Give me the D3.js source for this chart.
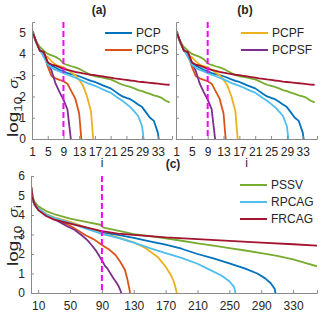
<!DOCTYPE html>
<html>
<head>
<meta charset="utf-8">
<script src="https://cdn.jsdelivr.net/npm/d3@7"></script>
<style>
  body { margin: 0; background: #fff; }
  text { font-family: "Liberation Sans", Arial, sans-serif; fill: #262626; }
</style>
</head>
<body>
<div id="chart"></div>
<script>
// series names / colours (MATLAB default order)
const names = ["PCP", "PCPS", "PCPF", "PCPSF", "PSSV", "RPCAG", "FRCAG"];
const colors = ["#0072BD", "#D95319", "#EDB120", "#7E2F8E", "#77AC30", "#4DBEEE", "#A2142F"];

// panels (a) and (b): log10 sigma_i for i = 1, 2, 3 ...
const abPCP   = [5.1, 4.6, 4.2, 3.9, 3.6, 3.45, 3.35, 3.25, 3.18, 3.1, 3.05, 3.0, 2.95, 2.88, 2.8, 2.73, 2.68, 2.6, 2.52, 2.45, 2.38, 2.25, 2.12, 2.0, 1.93, 1.87, 1.75, 1.62, 1.5, 1.25, 1.0, 0.85, 0.3, -1];
const abPCPS  = [5.1, 4.6, 4.15, 4.05, 3.4, 2.95, 2.85, 2.78, 2.72, 2.6, 2.25, 1.9, 1.2, -1];
const abPCPF  = [5.1, 4.55, 4.2, 3.95, 3.85, 3.65, 3.5, 3.42, 3.38, 3.25, 3.12, 3.0, 2.78, 2.5, 2.0, 1.3, -1];
const abPCPSF = [5.1, 4.6, 4.15, 4.05, 3.6, 3.2, 2.6, 2.2, 1.85, 1.4, -0.2];
const abPSSV  = [5.1, 4.6, 4.33, 4.15, 4.0, 3.93, 3.86, 3.75, 3.55, 3.48, 3.42, 3.37, 3.3, 3.2, 3.1, 3.0, 2.95, 2.92, 2.88, 2.84, 2.8, 2.72, 2.63, 2.55, 2.5, 2.45, 2.38, 2.3, 2.25, 2.18, 2.12, 2.05, 2.0, 1.93, 1.8, 1.72];
const abRPCAG = [5.1, 4.55, 4.2, 3.85, 3.5, 3.35, 3.25, 3.18, 3.1, 3.02, 2.95, 2.88, 2.8, 2.72, 2.63, 2.57, 2.5, 2.42, 2.33, 2.25, 2.18, 2.05, 1.92, 1.8, 1.65, 1.5, 1.3, 1.08, 0.6, -1];
const abFRCAG = [5.1, 4.6, 4.15, 4.1, 3.6, 3.5, 3.45, 3.38, 3.3, 3.25, 3.2, 3.15, 3.12, 3.08, 3.05, 3.02, 3.0, 2.97, 2.94, 2.91, 2.88, 2.85, 2.83, 2.8, 2.78, 2.75, 2.73, 2.7, 2.68, 2.66, 2.64, 2.62, 2.6, 2.58, 2.56, 2.55];
const abTicks = [1, 5, 9, 13, 17, 21, 25, 29, 33];

// panel (c): [i, log10 sigma_i]
const cPCP   = [[1,5.5],[3,4.85],[5,4.55],[10,4.3],[20,4.02],[30,3.85],[50,3.62],[70,3.35],[90,3.1],[110,2.98],[130,2.83],[150,2.65],[170,2.48],[190,2.27],[210,2.0],[230,1.78],[250,1.52],[270,1.25],[285,1.0],[295,0.75],[302,0.5],[307,0.2],[310,-0.5]];
const cPCPS  = [[1,5.5],[3,4.85],[5,4.55],[10,4.3],[20,4.0],[30,3.8],[50,3.45],[60,3.2],[70,2.95],[80,2.75],[90,2.46],[100,2.2],[107,1.95],[113,1.6],[119,1.18],[122,0.7],[125,0.1],[126,-0.5]];
const cPCPF  = [[1,5.5],[3,4.85],[5,4.55],[10,4.35],[20,4.05],[30,3.88],[50,3.65],[70,3.35],[90,3.05],[110,2.85],[130,2.6],[145,2.3],[160,1.85],[170,1.35],[177,0.9],[181,0.5],[184,0],[185,-0.5]];
const cPCPSF = [[1,5.5],[3,4.85],[5,4.55],[10,4.3],[20,4.0],[30,3.8],[45,3.45],[56,3.23],[65,2.95],[72,2.7],[77,2.46],[82,2.2],[86,1.95],[88,1.8],[91,1.6],[94,1.38],[97,1.25],[100,1.05],[104,0.78],[108,0.55],[111,0.35],[114,0.05],[115,-0.5]];
const cPSSV  = [[1,5.5],[3,4.95],[5,4.7],[10,4.45],[20,4.2],[30,4.05],[50,3.82],[70,3.65],[88,3.5],[92,3.35],[110,3.2],[130,3.02],[150,2.92],[170,2.8],[190,2.68],[210,2.55],[230,2.43],[250,2.3],[270,2.18],[290,2.05],[310,1.9],[330,1.73],[345,1.55],[360,1.37]];
const cRPCAG = [[1,5.5],[3,4.85],[5,4.55],[10,4.35],[20,4.02],[30,3.85],[50,3.6],[70,3.3],[90,3.03],[110,2.83],[130,2.58],[150,2.3],[170,2.05],[190,1.8],[210,1.5],[225,1.2],[240,0.9],[250,0.6],[256,0.3],[260,-0.5]];
const cFRCAG = [[1,5.5],[3,4.9],[5,4.6],[10,4.25],[20,3.95],[30,3.76],[50,3.56],[70,3.37],[90,3.17],[110,3.05],[130,2.98],[170,2.85],[210,2.76],[250,2.67],[290,2.58],[330,2.5],[360,2.43]];
const cTicks = [10, 50, 90, 130, 170, 210, 250, 290, 330];

const toPairs = arr => arr.map((v, k) => [k + 1, v]);
const abSeries = [abPCP, abPCPS, abPCPF, abPCPSF, abPSSV, abRPCAG, abFRCAG].map(toPairs);
const cSeries = [cPCP, cPCPS, cPCPF, cPCPSF, cPSSV, cRPCAG, cFRCAG];

const svg = d3.select("#chart").append("svg")
    .attr("width", 321)
    .attr("height", 312);

function drawPanel(p) {
    const x = d3.scaleLinear().domain(p.xDomain).range([p.left, p.right]);
    const y = d3.scaleLinear().domain(p.yDomain).range([p.bottom, p.top]);
    const g = svg.append("g");

    g.append("clipPath").attr("id", "clip-" + p.id)
        .append("rect")
        .attr("x", p.left).attr("y", p.top)
        .attr("width", p.right - p.left).attr("height", p.bottom - p.top);

    const line = d3.line().x(d => x(d[0])).y(d => y(d[1]));

    g.append("g").attr("clip-path", `url(#clip-${p.id})`)
        .selectAll("path")
        .data(p.series)
        .enter()
        .append("path")
        .attr("d", line)
        .attr("fill", "none")
        .attr("stroke", (d, k) => colors[k])
        .attr("stroke-width", 1.8)
        .attr("stroke-linejoin", "round");

    // dashed marker line
    g.append("line")
        .attr("x1", x(p.mark)).attr("x2", x(p.mark))
        .attr("y1", p.top).attr("y2", p.bottom)
        .attr("stroke", "#FF00FF")
        .attr("stroke-width", 2)
        .attr("stroke-dasharray", "6,3");

    const xAxis = g.append("g")
        .attr("transform", `translate(0,${p.bottom})`)
        .call(d3.axisBottom(x).tickValues(p.xTicks).tickSize(-3).tickPadding(8));
    const yAxis = g.append("g")
        .attr("transform", `translate(${p.left},0)`)
        .call(d3.axisLeft(y).tickValues(p.yTicks).tickSize(-3).tickPadding(6)
            .tickFormat(p.yLabels ? d3.format("d") : ""));

    [xAxis, yAxis].forEach(ax => {
        ax.select(".domain").attr("stroke", "#8a8a8a").attr("stroke-width", 1);
        ax.selectAll(".tick line").attr("stroke", "#8a8a8a");
        ax.selectAll(".tick text").attr("font-size", 12).attr("fill", "#262626")
            .style("font-family", "Liberation Sans, Arial, sans-serif");
    });

    g.append("text")
        .attr("x", p.titleX).attr("y", p.titleY)
        .attr("text-anchor", "middle")
        .attr("font-size", 12).attr("font-weight", "bold")
        .text(p.title);

    if (p.xLabel) {
        g.append("text")
            .attr("x", (p.left + p.right) / 2).attr("y", p.bottom + 28)
            .attr("text-anchor", "middle")
            .attr("font-size", 12)
            .text("i");
    }

    if (p.yLabels) {
        // stretched along its length like the original export
        const yl = g.append("text")
            .attr("transform", `translate(18,${p.yLabelY}) rotate(-90) scale(1.35,1)`)
            .attr("text-anchor", "start")
            .attr("font-size", 14);
        yl.append("tspan").text("log");
        yl.append("tspan").attr("font-size", 10).attr("dy", 4).text("10");
        yl.append("tspan").attr("dy", -4).text(" ");
        yl.append("tspan").attr("font-style", "italic").attr("font-size", 12).attr("dx", 2).text("σ");
        yl.append("tspan").attr("font-size", 9).attr("dy", 3).text("i");
    }

    // legend
    p.legend.forEach((k, n) => {
        const ly = p.legendY + n * 17;
        g.append("line")
            .attr("x1", p.legendX).attr("x2", p.legendX + 27)
            .attr("y1", ly).attr("y2", ly)
            .attr("stroke", colors[k]).attr("stroke-width", 2);
        g.append("text")
            .attr("x", p.legendX + 31).attr("y", ly + 4)
            .attr("font-size", 12)
            .text(names[k]);
    });
}

drawPanel({
    id: "a", series: abSeries, xDomain: [1, 36.6], yDomain: [0, 5.5],
    left: 32, right: 172, top: 22, bottom: 139,
    xTicks: abTicks, yTicks: [0, 1, 2, 3, 4, 5], yLabels: true, yLabelY: 137,
    mark: 9, title: "(a)", titleX: 99, titleY: 14, xLabel: true,
    legend: [0, 1], legendX: 105, legendY: 33
});

drawPanel({
    id: "b", series: abSeries, xDomain: [1, 36.6], yDomain: [0, 5.5],
    left: 176, right: 317, top: 22, bottom: 139,
    xTicks: abTicks, yTicks: [0, 1, 2, 3, 4, 5], yLabels: false,
    mark: 9, title: "(b)", titleX: 245, titleY: 14, xLabel: true,
    legend: [2, 3], legendX: 241, legendY: 33
});

drawPanel({
    id: "c", series: cSeries, xDomain: [1, 360], yDomain: [0, 6],
    left: 31, right: 317, top: 176, bottom: 293,
    xTicks: cTicks, yTicks: [0, 1, 2, 3, 4, 5, 6], yLabels: true, yLabelY: 266,
    mark: 90, title: "(c)", titleX: 173, titleY: 168, xLabel: false,
    legend: [4, 5, 6], legendX: 240, legendY: 185
});
</script>
</body>
</html>
